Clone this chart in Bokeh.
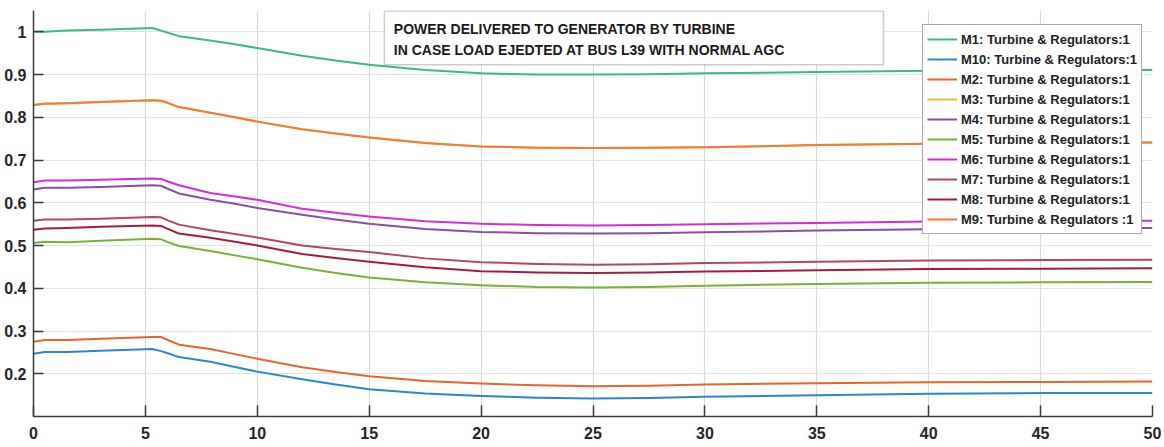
from bokeh.plotting import figure
from bokeh.models import (Legend, LegendItem, BoxAnnotation, Label, FixedTicker,
                          NumeralTickFormatter, Range1d)
from bokeh.embed import file_html
from bokeh.resources import INLINE

# ---------------- data ----------------
time_s = [0, 0.5, 1.5, 3, 5.3, 5.7, 6.0, 6.5, 7.9, 9.0, 10, 12, 13.5, 15, 17.5, 20, 22.5, 25, 27.5, 30, 35, 40, 45, 50]

m1 = [1.000, 1.000, 1.003, 1.005, 1.009, 1.003, 0.998, 0.990, 0.980, 0.971, 0.962, 0.944, 0.933, 0.923, 0.911, 0.903, 0.900, 0.900, 0.901, 0.903, 0.906, 0.909, 0.910, 0.911]
m10 = [0.247, 0.251, 0.251, 0.254, 0.258, 0.253, 0.248, 0.239, 0.228, 0.216, 0.205, 0.187, 0.175, 0.164, 0.154, 0.148, 0.144, 0.142, 0.143, 0.146, 0.150, 0.153, 0.155, 0.155]
m2 = [0.275, 0.279, 0.279, 0.282, 0.286, 0.286, 0.279, 0.268, 0.258, 0.246, 0.235, 0.215, 0.204, 0.194, 0.183, 0.177, 0.173, 0.171, 0.172, 0.175, 0.178, 0.180, 0.181, 0.182]
m3 = [0.829, 0.832, 0.833, 0.836, 0.840, 0.839, 0.834, 0.824, 0.811, 0.800, 0.790, 0.772, 0.762, 0.753, 0.740, 0.732, 0.729, 0.728, 0.729, 0.730, 0.735, 0.738, 0.740, 0.741]
m4 = [0.631, 0.635, 0.635, 0.637, 0.641, 0.640, 0.633, 0.622, 0.607, 0.598, 0.588, 0.572, 0.561, 0.551, 0.539, 0.532, 0.529, 0.528, 0.529, 0.531, 0.535, 0.538, 0.540, 0.541]
m5 = [0.506, 0.509, 0.508, 0.511, 0.516, 0.515, 0.508, 0.499, 0.487, 0.477, 0.468, 0.448, 0.436, 0.425, 0.414, 0.407, 0.403, 0.402, 0.403, 0.406, 0.410, 0.413, 0.414, 0.415]
m6 = [0.648, 0.652, 0.652, 0.654, 0.657, 0.656, 0.650, 0.641, 0.623, 0.615, 0.607, 0.586, 0.577, 0.568, 0.557, 0.551, 0.548, 0.547, 0.548, 0.550, 0.553, 0.556, 0.557, 0.558]
m7 = [0.558, 0.561, 0.561, 0.563, 0.567, 0.566, 0.559, 0.549, 0.536, 0.527, 0.519, 0.500, 0.492, 0.485, 0.470, 0.461, 0.457, 0.455, 0.456, 0.459, 0.462, 0.465, 0.466, 0.467]
m8 = [0.537, 0.540, 0.541, 0.544, 0.547, 0.546, 0.539, 0.528, 0.518, 0.509, 0.500, 0.480, 0.471, 0.462, 0.449, 0.440, 0.437, 0.436, 0.437, 0.439, 0.442, 0.445, 0.446, 0.447]
m9 = [0.829, 0.832, 0.833, 0.836, 0.840, 0.839, 0.834, 0.824, 0.811, 0.800, 0.790, 0.772, 0.762, 0.753, 0.740, 0.732, 0.729, 0.728, 0.729, 0.730, 0.735, 0.738, 0.740, 0.741]

series_names = ["M1: Turbine & Regulators:1", "M10: Turbine & Regulators:1",
                "M2: Turbine & Regulators:1", "M3: Turbine & Regulators:1",
                "M4: Turbine & Regulators:1", "M5: Turbine & Regulators:1",
                "M6: Turbine & Regulators:1", "M7: Turbine & Regulators:1",
                "M8: Turbine & Regulators:1", "M9: Turbine & Regulators :1"]
series_values = [m1, m10, m2, m3, m4, m5, m6, m7, m8, m9]
series_colors = ["#3dba7d", "#2f86d0", "#e8642c", "#e6c12e", "#8b4fa5",
                 "#79b13a", "#d62ed6", "#b4485c", "#a51d3c", "#f5793a"]

x_ticks = [0, 5, 10, 15, 20, 25, 30, 35, 40, 45, 50]
y_ticks = [0.2, 0.3, 0.4, 0.5, 0.6, 0.7, 0.8, 0.9, 1.0]

title_lines = ["POWER DELIVERED TO GENERATOR BY TURBINE",
               "IN CASE LOAD EJEDTED AT BUS L39 WITH NORMAL AGC"]

# ---------------- figure ----------------
p = figure(width=1164, height=447, output_backend="svg", toolbar_location=None,
           x_range=Range1d(0, 50), y_range=Range1d(0.1, 1.05),
           min_border_left=33, min_border_right=12, min_border_top=10, min_border_bottom=31)
p.outline_line_color = None
p.background_fill_color = "white"
p.border_fill_color = "white"

AX = "#3a3a3a"
for ax in (p.xaxis[0], p.yaxis[0]):
    ax.axis_line_color = AX
    ax.axis_line_width = 1.5
    ax.major_tick_line_color = AX
    ax.major_tick_line_width = 1.5
    ax.major_tick_out = 0
    ax.minor_tick_in = 0
    ax.minor_tick_out = 0
    ax.major_label_text_font = "Liberation Sans"
    ax.major_label_text_font_style = "bold"
    ax.major_label_text_font_size = "16px"
    ax.major_label_text_color = "#262626"

p.xaxis.ticker = FixedTicker(ticks=x_ticks)
p.yaxis.ticker = FixedTicker(ticks=y_ticks)
p.yaxis.formatter = NumeralTickFormatter(format="0.[0]")
p.xaxis.major_tick_in = 11
p.yaxis.major_tick_in = 10
p.xaxis.major_label_standoff = 10
p.yaxis.major_label_standoff = 7

p.xgrid.grid_line_color = "#d9d9d9"
p.ygrid.grid_line_color = "#e2e2e2"
p.xgrid.grid_line_width = 1.2
p.ygrid.grid_line_width = 1.2

items = []
for name, vals, col in zip(series_names, series_values, series_colors):
    r = p.line(time_s, vals, line_color=col, line_width=2, line_join="round")
    items.append(LegendItem(label=name, renderers=[r]))

legend = Legend(items=items, location=(889, 182))
legend.label_text_font = "Liberation Sans"
legend.label_text_font_style = "bold"
legend.label_text_font_size = "13px"
legend.label_text_color = "#222222"
legend.glyph_width = 30
legend.glyph_height = 20
legend.label_height = 20
legend.spacing = 0
legend.padding = 4
legend.margin = 0
legend.label_standoff = 4
legend.border_line_color = "#555555"
legend.border_line_width = 1.5
legend.background_fill_alpha = 1
p.add_layout(legend, "center")

# title box (annotation)
box = BoxAnnotation(left=15.68, right=37.98, top=1.049, bottom=0.923,
                    fill_color="white", fill_alpha=1.0,
                    line_color="#555555", line_width=1.5)
p.add_layout(box)
for i, t in enumerate(title_lines):
    lab = Label(x=16.1, y=1.007 - i * 0.049, text=t,
                text_font="Liberation Sans", text_font_style="bold",
                text_font_size="14px", text_color="#1a1a1a",
                text_baseline="middle", text_align="left")
    p.add_layout(lab)

open("out.html", "w").write(file_html(p, INLINE))
